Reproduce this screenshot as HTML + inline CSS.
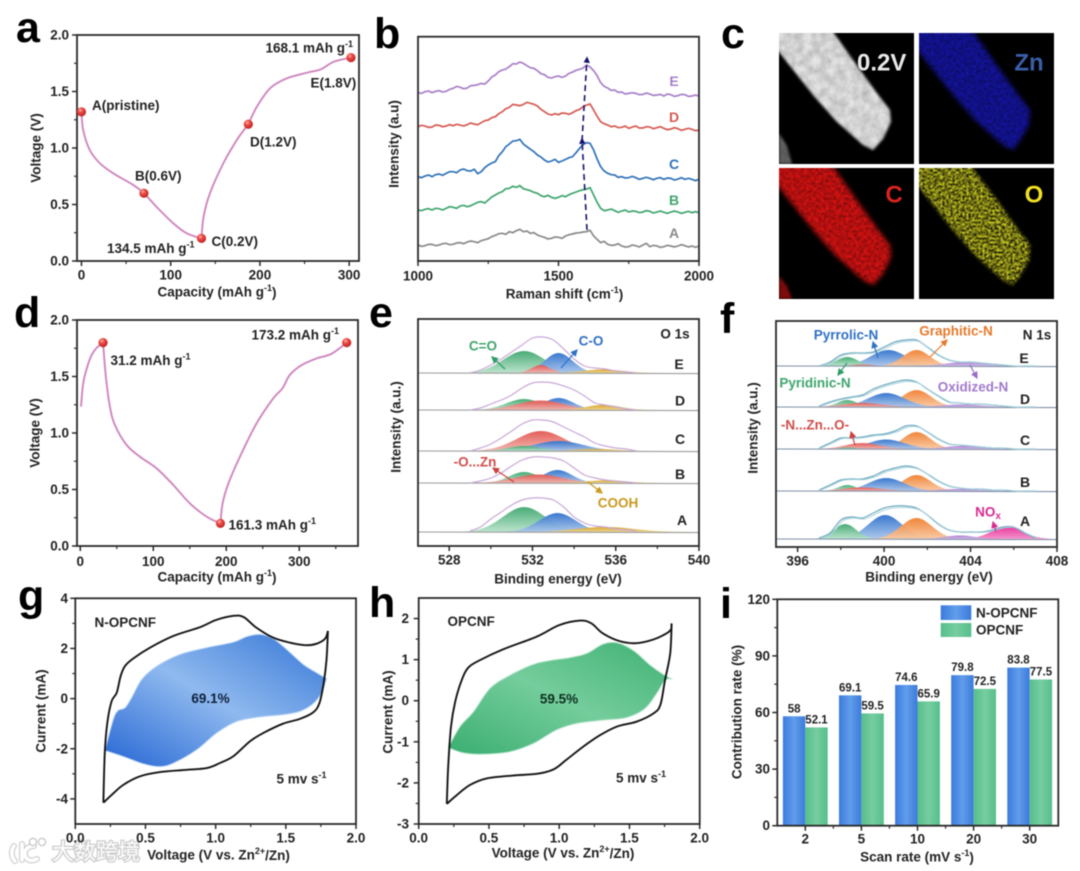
<!DOCTYPE html>
<html lang="en">
<head>
<meta charset="utf-8">
<title>Electrochemical characterization figure</title>
<style>
html,body{margin:0;padding:0;width:1080px;height:871px;overflow:hidden;background:#fff}
svg{display:block;filter:blur(.5px)}
text{font-family:"Liberation Sans","Noto Sans CJK SC",sans-serif;font-weight:700;font-size:13.5px;fill:#222;dominant-baseline:central}
.letter{font-size:43px;fill:#000;dominant-baseline:alphabetic}
.mid{text-anchor:middle}
.end{text-anchor:end}
.tick{font-size:13.5px}
.row{font-size:14px}
</style>
</head>
<body>
<svg id="figure" xmlns="http://www.w3.org/2000/svg" width="1080" height="871" viewBox="0 0 1080 871">
<defs>
  <radialGradient id="ball" cx=".38" cy=".32" r=".75"><stop offset="0" stop-color="#ffb5ae"/><stop offset=".35" stop-color="#ec4a44"/><stop offset="1" stop-color="#b81f1f"/></radialGradient>
  <linearGradient id="pk-green" x1="0" y1="0" x2="0" y2="1"><stop offset="0" stop-color="#3fa76f"/><stop offset="1" stop-color="#b8e2cb"/></linearGradient>
  <linearGradient id="pk-blue" x1="0" y1="0" x2="0" y2="1"><stop offset="0" stop-color="#2f71cc"/><stop offset="1" stop-color="#a9c6ec"/></linearGradient>
  <linearGradient id="pk-red" x1="0" y1="0" x2="0" y2="1"><stop offset="0" stop-color="#e2554f"/><stop offset="1" stop-color="#f3b4ae"/></linearGradient>
  <linearGradient id="pk-gold" x1="0" y1="0" x2="0" y2="1"><stop offset="0" stop-color="#d6a11e"/><stop offset="1" stop-color="#efd68e"/></linearGradient>
  <linearGradient id="pk-orange" x1="0" y1="0" x2="0" y2="1"><stop offset="0" stop-color="#f07f30"/><stop offset="1" stop-color="#f9c8a0"/></linearGradient>
  <linearGradient id="pk-purple" x1="0" y1="0" x2="0" y2="1"><stop offset="0" stop-color="#a875d0"/><stop offset="1" stop-color="#d5bce8"/></linearGradient>
  <linearGradient id="pk-pink" x1="0" y1="0" x2="0" y2="1"><stop offset="0" stop-color="#e62d98"/><stop offset="1" stop-color="#f48cc8"/></linearGradient>
  <linearGradient id="cv-blue" x1="0" y1="1" x2="1" y2="0"><stop offset="0" stop-color="#2566d4"/><stop offset=".5" stop-color="#8fb9ef"/><stop offset="1" stop-color="#3576d6"/></linearGradient>
  <linearGradient id="cv-green" x1="0" y1="1" x2="1" y2="0"><stop offset="0" stop-color="#3bae70"/><stop offset=".5" stop-color="#74cd9c"/><stop offset="1" stop-color="#3fb173"/></linearGradient>
  <linearGradient id="bar-blue" x1="0" y1="0" x2="1" y2="0"><stop offset="0" stop-color="#3b7bdb"/><stop offset=".5" stop-color="#619deb"/><stop offset="1" stop-color="#3b7bdb"/></linearGradient>
  <linearGradient id="bar-green" x1="0" y1="0" x2="1" y2="0"><stop offset="0" stop-color="#56be8b"/><stop offset=".5" stop-color="#76cea1"/><stop offset="1" stop-color="#56be8b"/></linearGradient>
  <marker id="m-green" markerWidth="7" markerHeight="7" refX="5" refY="3" orient="auto"><path d="M0 0L6 3L0 6Z" fill="#2f9a66"/></marker>
  <marker id="m-blue" markerWidth="7" markerHeight="7" refX="5" refY="3" orient="auto"><path d="M0 0L6 3L0 6Z" fill="#2f71c4"/></marker>
  <marker id="m-red" markerWidth="7" markerHeight="7" refX="5" refY="3" orient="auto"><path d="M0 0L6 3L0 6Z" fill="#c9423f"/></marker>
  <marker id="m-gold" markerWidth="7" markerHeight="7" refX="5" refY="3" orient="auto"><path d="M0 0L6 3L0 6Z" fill="#c9981e"/></marker>
  <marker id="m-orange" markerWidth="7" markerHeight="7" refX="5" refY="3" orient="auto"><path d="M0 0L6 3L0 6Z" fill="#e57a2e"/></marker>
  <marker id="m-purple" markerWidth="7" markerHeight="7" refX="5" refY="3" orient="auto"><path d="M0 0L6 3L0 6Z" fill="#9a6cc4"/></marker>
  <marker id="m-pink" markerWidth="7" markerHeight="7" refX="5" refY="3" orient="auto"><path d="M0 0L6 3L0 6Z" fill="#d92a90"/></marker>
  <marker id="m-navy" markerWidth="5" markerHeight="5" refX="3" refY="2" orient="auto"><path d="M0 0L4 2L0 4Z" fill="#14146e"/></marker>
  <clipPath id="map-clip"><rect x="0" y="0" width="135" height="131"/></clipPath>
  <filter id="sp-soft" x="-10%" y="-10%" width="120%" height="120%" color-interpolation-filters="sRGB"><feGaussianBlur stdDeviation="1.3" result="b"/><feTurbulence type="fractalNoise" baseFrequency=".12" numOctaves="3" seed="4"/><feColorMatrix type="matrix" values="0 0 0 0 0 0 0 0 0 0 0 0 0 0 0 .3 0 0 0 .76" result="n"/><feComposite in="b" in2="n" operator="in"/></filter>
  <filter id="sp-mid" x="-10%" y="-10%" width="120%" height="120%" color-interpolation-filters="sRGB"><feGaussianBlur stdDeviation="2.2" result="b"/><feTurbulence type="fractalNoise" baseFrequency=".4" numOctaves="2" seed="7"/><feColorMatrix type="matrix" values="0 0 0 0 0 0 0 0 0 0 0 0 0 0 0 1.1 0 0 0 .2" result="n"/><feComposite in="b" in2="n" operator="in"/><feGaussianBlur stdDeviation=".7"/></filter>
  <filter id="sp-hard" x="-10%" y="-10%" width="120%" height="120%" color-interpolation-filters="sRGB"><feGaussianBlur stdDeviation="1.6" result="b"/><feTurbulence type="fractalNoise" baseFrequency=".5" numOctaves="2" seed="11"/><feColorMatrix type="matrix" values="0 0 0 0 0 0 0 0 0 0 0 0 0 0 0 2.6 0 0 0 -.8" result="n"/><feComposite in="b" in2="n" operator="in"/><feGaussianBlur stdDeviation=".5"/></filter>
</defs>
<rect x="0" y="0" width="1080" height="871" fill="#fff"/>

<!-- Panel letters -->
<g>
  <text class="letter" x="16" y="42">a</text>
  <text class="letter" x="374" y="48">b</text>
  <text class="letter" x="721" y="48">c</text>
  <text class="letter" x="14" y="327">d</text>
  <text class="letter" x="369" y="327">e</text>
  <text class="letter" x="720" y="333">f</text>
  <text class="letter" x="18" y="610">g</text>
  <text class="letter" x="369" y="617">h</text>
  <text class="letter" x="720" y="618">i</text>
</g>

<!-- Panel a -->
<g id="panel-a">
  <g id="a-marks"></g>
  <text class="mid" x="217" y="292">Capacity (mAh g<tspan dy="-4" font-size="9">-1</tspan><tspan dy="4">)</tspan></text>
  <text class="mid" transform="rotate(-90 36 148)" x="36" y="148">Voltage (V)</text>
  <text x="92" y="105.5">A(pristine)</text>
  <text x="265.5" y="48">168.1 mAh g<tspan dy="-4" font-size="9">-1</tspan></text>
  <text x="310.5" y="83">E(1.8V)</text>
  <text x="250" y="142">D(1.2V)</text>
  <text x="135" y="176">B(0.6V)</text>
  <text x="211.5" y="241.5">C(0.2V)</text>
  <text x="107" y="248.5">134.5 mAh g<tspan dy="-4" font-size="9">-1</tspan></text>
</g>

<!-- Panel b -->
<g id="panel-b">
  <g id="b-marks"></g>
  <line x1="587" y1="230" x2="582" y2="139" stroke="#14146e" stroke-width="1.6" stroke-dasharray="6 4" marker-end="url(#m-navy)"/>
  <line x1="582" y1="141" x2="587" y2="58" stroke="#14146e" stroke-width="1.6" stroke-dasharray="6 4" marker-end="url(#m-navy)"/>
  <text class="mid" x="564.5" y="294">Raman shift (cm<tspan dy="-4" font-size="9">-1</tspan><tspan dy="4">)</tspan></text>
  <text class="mid" transform="rotate(-90 394 144)" x="394" y="144">Intensity (a.u)</text>
  <text class="mid row" x="674" y="81" style="fill:#a87fc9">E</text>
  <text class="mid row" x="674" y="117" style="fill:#d65a52">D</text>
  <text class="mid row" x="674" y="164" style="fill:#2f72b8">C</text>
  <text class="mid row" x="674" y="200" style="fill:#3fa56e">B</text>
  <text class="mid row" x="674" y="233" style="fill:#8a8a8a">A</text>
</g>

<!-- Panel c -->
<g id="panel-c">
  <g transform="translate(779,33)" clip-path="url(#map-clip)">
    <rect width="135" height="131" fill="#000"/>
    <polygon points="-4,-4 52,-4 74,27 97,59 111,77 112,89 104,106 94,117 84,112 57,88 34,62 -4,14" fill="#e6e6e6" filter="url(#sp-soft)"/>
    <polygon points="0,100 8,113 13,131 0,131" fill="#666" filter="url(#sp-soft)"/>
  </g>
  <g transform="translate(919,33)" clip-path="url(#map-clip)">
    <rect width="135" height="131" fill="#000"/>
    <polygon points="-4,-4 52,-4 74,27 97,59 111,77 110,92 102,106 94,117 84,112 57,88 34,62 -4,14" fill="#1616b0" filter="url(#sp-mid)"/>
  </g>
  <g transform="translate(779,168)" clip-path="url(#map-clip)">
    <rect width="135" height="131" fill="#000"/>
    <polygon points="-4,-4 52,-4 74,27 97,59 111,77 112,89 104,106 94,117 84,112 57,88 34,62 -4,14" fill="#ee1414" filter="url(#sp-mid)"/>
    <polygon points="0,108 8,118 13,131 0,131" fill="#8a0c0c" filter="url(#sp-soft)"/>
  </g>
  <g transform="translate(919,168)" clip-path="url(#map-clip)">
    <rect width="135" height="131" fill="#000"/>
    <polygon points="-4,-4 50,-4 74,27 97,59 111,77 110,92 102,106 94,117 84,112 57,88 34,62 -4,14" fill="#e8e828" filter="url(#sp-hard)"/>
  </g>
  <text x="857" y="63" style="font-size:24px;fill:#e8e8e8">0.2V</text>
  <text class="mid" x="1029" y="63" style="font-size:24px;fill:#3a5ea8">Zn</text>
  <text class="mid" x="894" y="195" style="font-size:24px;fill:#d8231c">C</text>
  <text class="mid" x="1034" y="195" style="font-size:24px;fill:#f2e020">O</text>
</g>

<!-- Panel d -->
<g id="panel-d">
  <g id="d-marks"></g>
  <text class="mid" x="217" y="577">Capacity (mAh g<tspan dy="-4" font-size="9">-1</tspan><tspan dy="4">)</tspan></text>
  <text class="mid" transform="rotate(-90 35 433)" x="35" y="433">Voltage (V)</text>
  <text x="110.5" y="360.5">31.2 mAh g<tspan dy="-4" font-size="9">-1</tspan></text>
  <text x="251.5" y="335">173.2 mAh g<tspan dy="-4" font-size="9">-1</tspan></text>
  <text x="228.5" y="525">161.3 mAh g<tspan dy="-4" font-size="9">-1</tspan></text>
</g>

<!-- Panel e -->
<g id="panel-e">
  <g id="e-marks"></g>
  <text class="mid" x="558" y="579">Binding energy (eV)</text>
  <text class="mid" transform="rotate(-90 396 427)" x="396" y="427">Intensity (a.u.)</text>
  <text class="mid" x="675" y="334">O 1s</text>
  <text class="mid row" x="679" y="364">E</text>
  <text class="mid row" x="680" y="400.5">D</text>
  <text class="mid row" x="680" y="439">C</text>
  <text class="mid row" x="680" y="474">B</text>
  <text class="mid row" x="682" y="520">A</text>
  <text class="mid" x="483" y="346" style="fill:#3fa56e">C=O</text>
  <text class="mid" x="591" y="341" style="fill:#2f71c4">C-O</text>
  <text class="mid" x="475" y="462" style="fill:#cf4e4b">-O...Zn</text>
  <text class="mid" x="618" y="503" style="fill:#c9981e">COOH</text>
  <line x1="505" y1="369" x2="492" y2="357" stroke="#2f9a66" stroke-width="1.2" marker-end="url(#m-green)"/>
  <line x1="561" y1="368" x2="577" y2="350" stroke="#2f71c4" stroke-width="1.2" marker-end="url(#m-blue)"/>
  <line x1="514" y1="482" x2="493" y2="468" stroke="#c9423f" stroke-width="1.2" marker-end="url(#m-red)"/>
  <line x1="588" y1="482" x2="602" y2="493" stroke="#c9981e" stroke-width="1.2" marker-end="url(#m-gold)"/>
</g>

<!-- Panel f -->
<g id="panel-f">
  <g id="f-marks"></g>
  <text class="mid" x="929" y="577">Binding energy (eV)</text>
  <text class="mid" transform="rotate(-90 753 428)" x="753" y="428">Intensity (a.u.)</text>
  <text class="mid" x="1037" y="335">N 1s</text>
  <text class="mid row" x="1024" y="358">E</text>
  <text class="mid row" x="1025" y="399">D</text>
  <text class="mid row" x="1025" y="440">C</text>
  <text class="mid row" x="1025" y="482">B</text>
  <text class="mid row" x="1025" y="521">A</text>
  <text class="mid" x="846" y="335" style="fill:#2f71c4">Pyrrolic-N</text>
  <text class="mid" x="956" y="331" style="fill:#e57a2e">Graphitic-N</text>
  <text class="mid" x="815" y="383" style="fill:#3fa56e">Pyridinic-N</text>
  <text class="mid" x="973" y="387" style="fill:#a27acb">Oxidized-N</text>
  <text class="mid" x="815" y="425" style="fill:#cf4e4b">-N...Zn...O-</text>
  <text class="mid" x="988" y="512" style="fill:#d92a90">NO<tspan dy="4" font-size="10">x</tspan></text>
  <line x1="878" y1="358" x2="873" y2="342" stroke="#2f71c4" stroke-width="1.2" marker-end="url(#m-blue)"/>
  <line x1="930" y1="357" x2="947" y2="340" stroke="#e57a2e" stroke-width="1.2" marker-end="url(#m-orange)"/>
  <line x1="847" y1="363" x2="838" y2="375" stroke="#2f9a66" stroke-width="1.2" marker-end="url(#m-green)"/>
  <line x1="970" y1="365" x2="977" y2="378" stroke="#9a6cc4" stroke-width="1.2" marker-end="url(#m-purple)"/>
  <line x1="855" y1="445" x2="851" y2="432" stroke="#c9423f" stroke-width="1.2" marker-end="url(#m-red)"/>
  <line x1="996" y1="532" x2="993" y2="522" stroke="#d92a90" stroke-width="1.2" marker-end="url(#m-pink)"/>
</g>

<!-- Watermark sits under the later axis text -->
<g>
  <g fill="none" stroke-linecap="round">
    <path d="M14 846 C11 850 11 857 15 861 M22 844 V860 M34 846 C27 846 24 851 25 855 C26 860 31 862 37 859" stroke="#cfcfcf" stroke-width="6"/>
    <path d="M14 846 C11 850 11 857 15 861 M22 844 V860 M34 846 C27 846 24 851 25 855 C26 860 31 862 37 859" stroke="#fff" stroke-width="3.6"/>
  </g>
  <circle cx="33" cy="842" r="3.6" fill="#fff" stroke="#c4c4c4" stroke-width="1.2"/>
  <circle cx="42" cy="842" r="3.6" fill="#fff" stroke="#c4c4c4" stroke-width="1.2"/>
  <text x="52" y="852" style="font-size:22px;font-weight:400;fill:#fff;stroke:#cdcdcd;stroke-width:2.6px;paint-order:stroke">大数跨境</text>
</g>

<!-- Panel g -->
<g id="panel-g">
  <g id="g-marks"></g>
  <text class="mid" x="218.5" y="855">Voltage (V vs. Zn<tspan dy="-4" font-size="9">2+</tspan><tspan dy="4">/Zn)</tspan></text>
  <text class="mid" transform="rotate(-90 41 711)" x="41" y="711">Current (mA)</text>
  <text x="94.5" y="622.5">N-OPCNF</text>
  <text class="mid" x="210.5" y="698.5" style="fill:#10203c">69.1%</text>
  <text x="276.5" y="779">5 mv s<tspan dy="-4" font-size="9">-1</tspan></text>
</g>

<!-- Panel h -->
<g id="panel-h">
  <g id="h-marks"></g>
  <text class="mid" x="563" y="853">Voltage (V vs. Zn<tspan dy="-4" font-size="9">2+</tspan><tspan dy="4">/Zn)</tspan></text>
  <text class="mid" transform="rotate(-90 388 712)" x="388" y="712">Current (mA)</text>
  <text x="447.5" y="621.5">OPCNF</text>
  <text class="mid" x="559" y="699" style="fill:#0e2e20">59.5%</text>
  <text x="616" y="778">5 mv s<tspan dy="-4" font-size="9">-1</tspan></text>
</g>

<!-- Panel i -->
<g id="panel-i">
  <g id="i-marks"></g>
  <text class="mid" x="917" y="857">Scan rate (mV s<tspan dy="-4" font-size="9">-1</tspan><tspan dy="4">)</tspan></text>
  <text class="mid" transform="rotate(-90 737 712)" x="737" y="712">Contribution rate (%)</text>
  <g>
    <rect x="940.7" y="605.3" width="30.6" height="14.7" fill="url(#bar-blue)"/>
    <rect x="940.7" y="623" width="30.6" height="14" fill="url(#bar-green)"/>
    <text x="976" y="613">N-OPCNF</text>
    <text x="976" y="630">OPCNF</text>
  </g>
</g>

<script>
// ---------- Panel a data ----------
const aDischargeCapacity = [0, 1.9, 9.4, 20.6, 35.6, 58, 70, 84, 103, 118, 134.5];
const aDischargeVoltage = [1.32, 1.16, 0.98, 0.865, 0.776, 0.673, 0.6, 0.48, 0.333, 0.245, 0.2];
const aChargeCapacity = [134.5, 136.8, 144, 159, 174, 186.5, 196.6, 211.6, 230, 253, 268, 283, 302];
const aChargeVoltage = [0.2, 0.39, 0.6, 0.865, 1.07, 1.21, 1.366, 1.53, 1.616, 1.667, 1.696, 1.764, 1.8];
const aPointCapacity = [0, 70, 134.5, 187, 302];
const aPointVoltage = [1.32, 0.6, 0.2, 1.21, 1.8];
const capXTicksA = [0, 100, 200, 300];
const capXMinorA = [50, 150, 250];
const voltYTicks = [0, 0.5, 1, 1.5, 2];
const voltYLabels = ['0.0', '0.5', '1.0', '1.5', '2.0'];
const voltYMinor = [0.25, 0.75, 1.25, 1.75];

// ---------- Panel b data ----------
const ramanShift = [1000,1012.5,1025,1037.5,1050,1062.5,1075,1087.5,1100,1112.5,1125,1137.5,1150,1162.5,1175,1187.5,1200,1212.5,1225,1237.5,1250,1262.5,1275,1287.5,1300,1312.5,1325,1337.5,1350,1362.5,1375,1387.5,1400,1412.5,1425,1437.5,1450,1462.5,1475,1487.5,1500,1512.5,1525,1537.5,1550,1562.5,1575,1587.5,1600,1612.5,1625,1637.5,1650,1662.5,1675,1687.5,1700,1712.5,1725,1737.5,1750,1762.5,1775,1787.5,1800,1812.5,1825,1837.5,1850,1862.5,1875,1887.5,1900,1912.5,1925,1937.5,1950,1962.5,1975,1987.5,2000];
const ramanE = [505,503,508,510,505,509,511,507,509,515,518,524,521,517,519,526,527,529,533,531,540,552,558,568,573,576,583,592,591,597,593,586,580,578,571,562,559,551,549,553,555,551,555,563,567,572,575,579,588,582,571,556,535,524,519,512,513,506,507,501,503,505,503,499,500,504,501,497,498,500,495,501,499,494,496,500,499,494,495,498,495];
const ramanD = [403,407,405,401,402,408,407,403,405,409,406,410,408,405,409,414,411,409,415,421,423,430,433,442,448,457,461,470,468,466,470,476,473,470,465,455,448,441,438,442,439,444,443,440,445,451,455,463,468,471,453,434,418,412,408,403,405,400,401,405,398,402,405,399,399,403,402,397,400,403,398,394,396,400,397,392,395,398,395,391,393];
const ramanC = [253,250,255,258,253,259,261,257,263,268,268,265,273,276,271,270,275,262,268,280,288,294,298,316,328,343,351,360,361,365,351,343,335,328,318,312,303,297,300,305,296,300,305,310,313,325,338,349,355,353,333,306,283,270,263,259,258,251,253,249,250,254,250,245,248,251,248,244,248,250,245,249,248,243,246,250,245,248,245,241,245];
const ramanB = [153,151,155,157,153,158,157,153,158,163,161,158,165,167,163,166,171,176,178,174,183,192,198,204,208,217,218,224,221,226,217,214,211,206,203,196,193,197,191,188,191,196,193,199,203,207,211,214,216,220,198,176,158,151,153,156,151,146,150,153,147,150,149,145,147,151,149,144,147,150,146,143,147,150,147,143,146,149,145,148,145];
const ramanA = [48,44,46,50,50,46,48,52,53,49,50,54,55,52,57,60,58,55,61,64,67,73,77,82,83,80,88,85,91,95,88,90,83,85,78,74,71,66,68,72,71,68,75,79,81,84,85,87,88,92,75,65,55,59,50,47,48,52,45,42,43,48,46,42,48,53,43,47,45,41,43,47,45,42,45,49,46,42,45,41,45];
const ramanXTicks = [1000, 1500, 2000];
const ramanXMinor = [1250, 1750];

// ---------- Panel d data ----------
const dFirstCapacity = [1, 4, 9.6, 15.5, 22, 31.2];
const dFirstVoltage = [1.233, 1.44, 1.587, 1.69, 1.75, 1.8];
const dDischargeCapacity = [31.2, 35, 40.6, 47.5, 63.5, 81.7, 104.6, 127.4, 150, 173, 192];
const dDischargeVoltage = [1.8, 1.5, 1.233, 1.07, 0.894, 0.79, 0.687, 0.54, 0.378, 0.26, 0.2];
const dChargeCapacity = [192, 195, 203, 218.7, 241.5, 264.4, 277, 287, 303, 323.7, 344, 365];
const dChargeVoltage = [0.2, 0.378, 0.555, 0.79, 1.085, 1.307, 1.395, 1.513, 1.6, 1.66, 1.7, 1.8];
const dPointCapacity = [31.2, 192, 365];
const dPointVoltage = [1.8, 0.2, 1.8];
const capXTicksD = [0, 100, 200, 300];
const capXMinorD = [50, 150, 250, 350];

// ---------- Panel e data (rows A, B, C, D, E) ----------
const o1sBaseline = [14, 63, 95, 136, 173];
const o1sCOdblCenter = [531.6, 531.6, 531.6, 531.6, 531.6];
const o1sCOdblHeight = [25, 11, 5, 11, 22];
const o1sCOdblWidth = [1.02, 0.72, 0.8, 0.85, 1.0];
const o1sCOCenter = [533.2, 533.2, 533.25, 533.25, 533.25];
const o1sCOHeight = [19, 13, 10, 12, 20];
const o1sCOWidth = [0.88, 0.7, 1.2, 0.72, 0.68];
const o1sZnCenter = [532.4, 532.3, 532.4, 532.4, 532.4];
const o1sZnHeight = [0, 8.5, 20, 9.5, 8];
const o1sZnWidth = [0.5, 1.15, 1.15, 1.15, 0.45];
const o1sCoohCenter = [535.5, 535.5, 535, 535.4, 535.4];
const o1sCoohHeight = [5, 2.5, 2, 5, 3.5];
const o1sCoohWidth = [1.4, 1.0, 1.0, 0.85, 0.95];
const o1sEnergy = [529,529.5,530,530.5,531,531.5,532,532.5,533,533.5,534,534.5,535,535.5,536,536.5,537];
const o1sEnvA = [1,5,13,20,27,32,34,34,32,25,15,9,6,5,3,2,1];
const o1sEnvB = [0,2,5,10,17,23,26,26,25,22,15,8,5,3,2,1,0];
const o1sEnvC = [0,3,7,13,20,27,31,31,29,24,19,14,8,5,3,2,0];
const o1sEnvD = [0,2,6,10,15,22,27,28,27,24,20,14,7,5,3,1,0];
const o1sEnvE = [0,3,8,14,21,28,35,36,33,24,14,7,5,4,2,1,0];
const o1sXTicks = [528, 532, 536, 540];
const o1sXMinor = [530, 534, 538];

// ---------- Panel f data (rows A, B, C, D, E) ----------
const n1sBaseline = [8, 56, 98, 140, 181];
const n1sPyridinicCenter = [398.2, 398.3, 398.3, 398.3, 398.3];
const n1sPyridinicHeight = [15, 6, 1.5, 7, 9];
const n1sPyridinicWidth = [0.52, 0.42, 0.4, 0.46, 0.5];
const n1sPyrrolicCenter = [400.05, 400.1, 400.1, 400.1, 400.2];
const n1sPyrrolicHeight = [24, 13, 9.5, 14, 16];
const n1sPyrrolicWidth = [0.78, 0.82, 0.85, 0.85, 0.82];
const n1sGraphiticCenter = [401.5, 401.5, 401.5, 401.5, 401.5];
const n1sGraphiticHeight = [21, 16, 17, 17, 16];
const n1sGraphiticWidth = [0.72, 0.66, 0.64, 0.68, 0.62];
const n1sOxidizedCenter = [403.5, 403.5, 403.6, 403.6, 403.8];
const n1sOxidizedHeight = [3.5, 2, 3, 2.5, 4];
const n1sOxidizedWidth = [0.7, 0.95, 0.85, 0.95, 0.95];
const n1sZnCenter = [399, 399, 399, 399, 399];
const n1sZnHeight = [0, 3.5, 6, 4, 1.5];
const n1sZnWidth = [0.5, 0.9, 0.8, 0.95, 0.5];
const n1sNoxCenter = [405.7, 405.7, 405.7, 405.7, 405.7];
const n1sNoxHeight = [12.7, 0, 0, 0, 0];
const n1sNoxWidth = [0.72, 0.7, 0.7, 0.7, 0.7];
const n1sEnergy = [397,397.5,398,398.5,399,399.5,400,400.5,401,401.5,402,402.5,403,403.5,404,404.5,405,405.5,406,406.5,407];
const n1sEnvA = [1,6,19,22,21,26,31,33,33,31,24,15,9,7,7,7,9,12,12,6,1];
const n1sEnvB = [1,6,11,12,12,15,20,23,25,23,17,10,5,3,2,2,1,1,0,0,0];
const n1sEnvC = [1,6,11,11,12,14,15,18,23,23,17,10,5,4,3,2,1,1,0,0,0];
const n1sEnvD = [1,5,8,10,12,18,22,25,27,25,18,11,5,4,3,3,2,1,0,0,0];
const n1sEnvE = [0,4,11,13,13,14,19,24,26,26,19,11,6,4,4,3,2,1,0,0,0];
const n1sXTicks = [396, 400, 404, 408];
const n1sXMinor = [398, 402, 406];

// ---------- Panel g data ----------
const gUpV = [0.2,0.21,0.228,0.259,0.295,0.323,0.354,0.413,0.532,0.7,0.89,1.0,1.126,1.2,1.29,1.41,1.53,1.64,1.72,1.78,1.8];
const gUpI = [-4.15,-2.17,-0.97,-0.1,0.23,0.9,1.3,1.6,2.03,2.5,2.85,3.13,3.3,3.25,2.83,2.43,2.23,2.13,2.19,2.39,2.7];
const gDownV = [1.8,1.79,1.77,1.74,1.695,1.6,1.48,1.34,1.245,1.126,1.03,0.936,0.793,0.603,0.46,0.342,0.259,0.2];
const gDownI = [2.7,1.56,0.63,-0.17,-0.55,-0.81,-1,-1.37,-1.7,-2.3,-2.57,-2.77,-2.84,-2.93,-3.1,-3.44,-3.84,-4.15];
const gFillUpV = [0.211,0.27,0.306,0.354,0.401,0.473,0.58,0.746,0.936,1.126,1.22,1.316,1.41,1.506,1.625,1.72,1.79];
const gFillUpI = [-2.07,-0.84,-0.47,-0.37,0.03,0.76,1.29,1.76,2.03,2.25,2.47,2.56,2.39,1.96,1.36,1.03,0.8];
const gFillDownV = [1.79,1.755,1.695,1.6,1.48,1.316,1.15,1.007,0.865,0.7,0.603,0.485,0.342,0.211];
const gFillDownI = [0.8,0.23,-0.2,-0.51,-0.64,-0.73,-0.91,-1.37,-2.04,-2.57,-2.71,-2.6,-2.31,-2.07];
const cvXTicks = [0, 0.5, 1, 1.5, 2];
const cvXLabels = ['0.0', '0.5', '1.0', '1.5', '2.0'];
const cvXMinor = [0.25, 0.75, 1.25, 1.75];
const gYTicks = [-4, -2, 0, 2, 4];
const gYMinor = [-3, -1, 1, 3];

// ---------- Panel h data ----------
const hUpV = [0.2,0.21,0.23,0.26,0.306,0.354,0.437,0.6,0.84,1.0,1.15,1.23,1.31,1.43,1.55,1.67,1.765,1.796,1.8];
const hUpI = [-2.51,-1.6,-0.63,-0.02,0.5,0.81,0.99,1.25,1.56,1.84,1.95,1.88,1.64,1.45,1.4,1.49,1.64,1.74,1.88];
const hDownV = [1.8,1.79,1.753,1.72,1.67,1.55,1.41,1.29,1.17,1.05,0.96,0.84,0.67,0.484,0.365,0.27,0.2];
const hDownI = [1.88,1.15,0.5,-0.1,-0.31,-0.51,-0.63,-0.84,-1.12,-1.44,-1.67,-1.78,-1.82,-1.89,-2.05,-2.3,-2.51];
const hFillUpV = [0.21,0.294,0.39,0.508,0.65,0.84,1.077,1.196,1.314,1.41,1.528,1.646,1.74,1.8];
const hFillUpI = [-1.14,-0.63,-0.27,0.3,0.62,0.91,1.05,1.15,1.38,1.41,1.22,0.87,0.64,0.53];
const hFillDownV = [1.8,1.753,1.694,1.61,1.48,1.314,1.125,0.98,0.816,0.65,0.46,0.318,0.21];
const hFillDownI = [0.53,0.5,0.18,-0.19,-0.41,-0.47,-0.55,-0.71,-1.04,-1.24,-1.3,-1.27,-1.14];
const hYTicks = [-3, -2, -1, 0, 1, 2];
const hYMinor = [-2.5, -1.5, -0.5, 0.5, 1.5];

// ---------- Panel i data ----------
const scanRates = ['2', '5', '10', '20', '30'];
const nOpcnfRate = [58, 69.1, 74.6, 79.8, 83.8];
const opcnfRate = [52.1, 59.5, 65.9, 72.5, 77.5];
const rateYTicks = [0, 30, 60, 90, 120];
const rateYMinor = [15, 45, 75, 105];

// ---------- Helpers ----------
const SVGNS = 'http://www.w3.org/2000/svg';
function linear(d0, d1, r0, r1) {
  return function (v) { return r0 + (v - d0) / (d1 - d0) * (r1 - r0); };
}
function make(parent, tag, props) {
  const el = document.createElementNS(SVGNS, tag);
  Object.keys(props).forEach(function (k) { el.setAttribute(k, props[k]); });
  parent.appendChild(el);
  return el;
}
function smoothSegment(pts, move) {
  let d = move ? 'M' + pts[0][0].toFixed(2) + ' ' + pts[0][1].toFixed(2) : 'L' + pts[0][0].toFixed(2) + ' ' + pts[0][1].toFixed(2);
  for (let i = 0; i < pts.length - 1; i++) {
    const p0 = pts[Math.max(i - 1, 0)], p1 = pts[i], p2 = pts[i + 1], p3 = pts[Math.min(i + 2, pts.length - 1)];
    const c1x = p1[0] + (p2[0] - p0[0]) / 6, c1y = p1[1] + (p2[1] - p0[1]) / 6;
    const c2x = p2[0] - (p3[0] - p1[0]) / 6, c2y = p2[1] - (p3[1] - p1[1]) / 6;
    d += 'C' + c1x.toFixed(2) + ' ' + c1y.toFixed(2) + ' ' + c2x.toFixed(2) + ' ' + c2y.toFixed(2) + ' ' + p2[0].toFixed(2) + ' ' + p2[1].toFixed(2);
  }
  return d;
}
function toPixels(xs, ys, sx, sy) {
  return xs.map(function (x, i) { return [sx(x), sy(ys[i])]; });
}
function drawAxes(g, box, sx, sy, o) {
  const frame = make(g, 'rect', { x: box[0], y: box[2], width: box[1] - box[0], height: box[3] - box[2], fill: 'none', stroke: '#2a2a2a', 'stroke-width': 1.8 });
  
  
  o.xMajor.forEach(function (v, i) {
    const t = make(g, 'line', { x1: sx(v), x2: sx(v), y1: box[3], y2: box[3] + 5, stroke: '#2a2a2a', 'stroke-width': 1.5 });
    
    
    const l = make(g, 'text', { x: sx(v), y: o.xLabelY, class: 'mid tick' });
    l.textContent = o.xLabels ? o.xLabels[i] : String(v);
    
    
  });
  o.xMinor.forEach(function (v) {
    const t = make(g, 'line', { x1: sx(v), x2: sx(v), y1: box[3], y2: box[3] + 3, stroke: '#2a2a2a', 'stroke-width': 1.2 });
    
    
  });
  (o.yMajor || []).forEach(function (v, i) {
    const t = make(g, 'line', { x1: box[0] - 5, x2: box[0], y1: sy(v), y2: sy(v), stroke: '#2a2a2a', 'stroke-width': 1.5 });
    
    
    const l = make(g, 'text', { x: o.yLabelX, y: sy(v), class: 'end tick' });
    l.textContent = o.yLabels ? o.yLabels[i] : String(v);
    
    
  });
  (o.yMinor || []).forEach(function (v) {
    const t = make(g, 'line', { x1: box[0] - 3, x2: box[0], y1: sy(v), y2: sy(v), stroke: '#2a2a2a', 'stroke-width': 1.2 });
    
    
  });
}
function drawGcd(g, segments, px, py, sx, sy) {
  segments.forEach(function (seg) {
    const line = make(g, 'path', { d: smoothSegment(toPixels(seg[0], seg[1], sx, sy), true), fill: 'none', stroke: '#cf86bf', 'stroke-width': 1.9 });
    
    
  });
  px.forEach(function (x, i) {
    const c = make(g, 'circle', { cx: sx(x), cy: sy(py[i]), r: 4.6, fill: 'url(#ball)' });
    
    
  });
}
function peakShape(center, height, width, base, sx, sy, fill, g, name) {
  const top = [];
  const n = 40;
  for (let i = 0; i <= n; i++) {
    const e = center - 3.2 * width + 6.4 * width * i / n;
    const u = (e - center) / width;
    top.push(sx(e).toFixed(2) + ' ' + sy(base + height * Math.exp(-0.5 * u * u)).toFixed(2));
  }
  const p = make(g, 'path', { d: 'M' + top.join('L') + 'Z', fill: fill, stroke: 'none', 'fill-opacity': 0.95 });
  
  
}
function drawXps(g, rows, baselines, species, energy, envs, box, sx, sy, envColor, baseColor, doubled) {
  rows.forEach(function (row, r) {
    const peaks = species.map(function (s) { return { c: s.c[r], h: s.h[r], w: s.w[r], fill: s.fill, name: s.name }; })
      .filter(function (p) { return p.h > 0; })
      .sort(function (a, b) { return b.h - a.h; });
    peaks.forEach(function (p) { peakShape(p.c, p.h, p.w, baselines[r], sx, sy, p.fill, g, p.name); });
    const base = make(g, 'line', { x1: box[0], x2: box[1], y1: sy(baselines[r]), y2: sy(baselines[r] - 0.6), stroke: baseColor, 'stroke-width': 1.1 });
    
    
    const pts = energy.map(function (e, i) { return [sx(e), sy(baselines[r] + envs[r][i])]; });
    const env = make(g, 'path', { d: smoothSegment(pts, true), fill: 'none', stroke: envColor, 'stroke-width': 1.2 });
    
    
    if (doubled) {
      const ptsB = energy.map(function (e, i) { return [sx(e + 0.09), sy(baselines[r] + envs[r][i] * 0.95)]; });
      const env2 = make(g, 'path', { d: smoothSegment(ptsB, true), fill: 'none', stroke: '#a9d3dd', 'stroke-width': 1 });
      
      
    }
  });
}
function drawCv(g, outerSegs, fillUp, fillDown, sx, sy, fill, edge) {
  const upPts = toPixels(fillUp[0], fillUp[1], sx, sy);
  const downPts = toPixels(fillDown[0], fillDown[1], sx, sy);
  const area = make(g, 'path', { d: smoothSegment(upPts, true) + smoothSegment(downPts, false) + 'Z', fill: fill, stroke: edge, 'stroke-width': 1 });
  
  
  outerSegs.forEach(function (seg) {
    const line = make(g, 'path', { d: smoothSegment(toPixels(seg[0], seg[1], sx, sy), true), fill: 'none', stroke: '#151515', 'stroke-width': 1.9 });
    
    
  });
}

// ---------- Panel a ----------
(function () {
  const g = document.getElementById('a-marks');
  const sx = linear(-5, 311, 77, 359), sy = linear(0, 2, 261, 35);
  drawAxes(g, [77, 359, 35, 261], sx, sy, { xMajor: capXTicksA, xMinor: capXMinorA, xLabelY: 275, yMajor: voltYTicks, yLabels: voltYLabels, yMinor: voltYMinor, yLabelX: 69 });
  drawGcd(g, [[aDischargeCapacity, aDischargeVoltage], [aChargeCapacity, aChargeVoltage]], aPointCapacity, aPointVoltage, sx, sy);
})();

// ---------- Panel b ----------
(function () {
  const g = document.getElementById('b-marks');
  const sx = linear(1000, 2000, 418, 699), sy = linear(0, 673, 261, 36.7);
  const series = [[ramanA, '#8a8a8a', 'raman-a'], [ramanB, '#3fa56e', 'raman-b'], [ramanC, '#2f72b8', 'raman-c'], [ramanD, '#d65a52', 'raman-d'], [ramanE, '#a87fc9', 'raman-e']];
  series.forEach(function (s) {
    const d = 'M' + ramanShift.map(function (x, i) { return sx(x).toFixed(2) + ' ' + sy(s[0][i]).toFixed(2); }).join('L');
    const line = make(g, 'path', { d: d, fill: 'none', stroke: s[1], 'stroke-width': 1.7 });
    
    
  });
  drawAxes(g, [418, 699, 36.7, 261], sx, sy, { xMajor: ramanXTicks, xMinor: ramanXMinor, xLabelY: 276 });
})();

// ---------- Panel d ----------
(function () {
  const g = document.getElementById('d-marks');
  const sx = linear(-4.5, 380.5, 77, 358), sy = linear(0, 2, 546, 320);
  drawAxes(g, [77, 358, 320, 546], sx, sy, { xMajor: capXTicksD, xMinor: capXMinorD, xLabelY: 561.5, yMajor: voltYTicks, yLabels: voltYLabels, yMinor: voltYMinor, yLabelX: 69 });
  drawGcd(g, [[dFirstCapacity, dFirstVoltage], [dDischargeCapacity, dDischargeVoltage], [dChargeCapacity, dChargeVoltage]], dPointCapacity, dPointVoltage, sx, sy);
})();

// ---------- Panel e ----------
(function () {
  const g = document.getElementById('e-marks');
  const sx = linear(526.5, 540, 418, 699), sy = linear(0, 227, 546, 319);
  const species = [
    { c: o1sCOdblCenter, h: o1sCOdblHeight, w: o1sCOdblWidth, fill: 'url(#pk-green)', name: 'peak-c-double-o' },
    { c: o1sCOCenter, h: o1sCOHeight, w: o1sCOWidth, fill: 'url(#pk-blue)', name: 'peak-c-o' },
    { c: o1sZnCenter, h: o1sZnHeight, w: o1sZnWidth, fill: 'url(#pk-red)', name: 'peak-o-zn' },
    { c: o1sCoohCenter, h: o1sCoohHeight, w: o1sCoohWidth, fill: 'url(#pk-gold)', name: 'peak-cooh' }
  ];
  drawXps(g, ['A', 'B', 'C', 'D', 'E'], o1sBaseline, species, o1sEnergy, [o1sEnvA, o1sEnvB, o1sEnvC, o1sEnvD, o1sEnvE], [418, 699], sx, sy, '#c9a8d8', '#9c9c9c', false);
  drawAxes(g, [418, 699, 319, 546], sx, sy, { xMajor: o1sXTicks, xMinor: o1sXMinor, xLabelY: 560 });
})();

// ---------- Panel f ----------
(function () {
  const g = document.getElementById('f-marks');
  const sx = linear(395, 408, 776, 1057), sy = linear(0, 226, 547, 321);
  const species = [
    { c: n1sPyridinicCenter, h: n1sPyridinicHeight, w: n1sPyridinicWidth, fill: 'url(#pk-green)', name: 'peak-pyridinic' },
    { c: n1sPyrrolicCenter, h: n1sPyrrolicHeight, w: n1sPyrrolicWidth, fill: 'url(#pk-blue)', name: 'peak-pyrrolic' },
    { c: n1sGraphiticCenter, h: n1sGraphiticHeight, w: n1sGraphiticWidth, fill: 'url(#pk-orange)', name: 'peak-graphitic' },
    { c: n1sOxidizedCenter, h: n1sOxidizedHeight, w: n1sOxidizedWidth, fill: 'url(#pk-purple)', name: 'peak-oxidized' },
    { c: n1sZnCenter, h: n1sZnHeight, w: n1sZnWidth, fill: 'url(#pk-red)', name: 'peak-n-zn-o' },
    { c: n1sNoxCenter, h: n1sNoxHeight, w: n1sNoxWidth, fill: 'url(#pk-pink)', name: 'peak-nox' }
  ];
  drawXps(g, ['A', 'B', 'C', 'D', 'E'], n1sBaseline, species, n1sEnergy, [n1sEnvA, n1sEnvB, n1sEnvC, n1sEnvD, n1sEnvE], [776, 1057], sx, sy, '#6fa9bf', '#7d8fa6', true);
  drawAxes(g, [776, 1057, 321, 547], sx, sy, { xMajor: n1sXTicks, xMinor: n1sXMinor, xLabelY: 561 });
})();

// ---------- Panel g ----------
(function () {
  const g = document.getElementById('g-marks');
  const sx = linear(0, 2, 75.3, 356), sy = linear(-5, 4, 824, 598.3);
  drawCv(g, [[gUpV, gUpI], [gDownV, gDownI]], [gFillUpV, gFillUpI], [gFillDownV, gFillDownI], sx, sy, 'url(#cv-blue)', '#b8d4f6');
  drawAxes(g, [75.3, 356, 598.3, 824], sx, sy, { xMajor: cvXTicks, xLabels: cvXLabels, xMinor: cvXMinor, xLabelY: 838, yMajor: gYTicks, yMinor: gYMinor, yLabelX: 68 });
})();

// ---------- Panel h ----------
(function () {
  const g = document.getElementById('h-marks');
  const sx = linear(0, 2, 418.7, 699.7), sy = linear(-3, 2.5, 824, 598);
  drawCv(g, [[hUpV, hUpI], [hDownV, hDownI]], [hFillUpV, hFillUpI], [hFillDownV, hFillDownI], sx, sy, 'url(#cv-green)', '#b5e4ca');
  drawAxes(g, [418.7, 699.7, 598, 824], sx, sy, { xMajor: cvXTicks, xLabels: cvXLabels, xMinor: cvXMinor, xLabelY: 838, yMajor: hYTicks, yMinor: hYMinor, yLabelX: 409 });
})();

// ---------- Panel i ----------
(function () {
  const g = document.getElementById('i-marks');
  const sx = linear(0, 4, 805.3, 1029.7), sy = linear(0, 120, 825.7, 599.3);
  const barW = 22.4;
  scanRates.forEach(function (rate, i) {
    const cx = sx(i);
    const blue = make(g, 'rect', { x: cx - barW, y: sy(nOpcnfRate[i]), width: barW, height: sy(0) - sy(nOpcnfRate[i]), fill: 'url(#bar-blue)' });
    
    
    const green = make(g, 'rect', { x: cx, y: sy(opcnfRate[i]), width: barW, height: sy(0) - sy(opcnfRate[i]), fill: 'url(#bar-green)' });
    
    
    const lb = make(g, 'text', { x: cx - barW / 2, y: sy(nOpcnfRate[i]) - 7, class: 'mid', style: 'font-size:11.5px' });
    lb.textContent = String(nOpcnfRate[i]);
    
    
    const lg = make(g, 'text', { x: cx + barW / 2, y: sy(opcnfRate[i]) - 7, class: 'mid', style: 'font-size:11.5px' });
    lg.textContent = String(opcnfRate[i]);
    
    
  });
  drawAxes(g, [777.3, 1058.3, 599.3, 825.7], sx, sy, { xMajor: [0, 1, 2, 3, 4], xLabels: scanRates, xMinor: [0.5, 1.5, 2.5, 3.5], xLabelY: 839, yMajor: rateYTicks, yMinor: rateYMinor, yLabelX: 770 });
})();
</script>
</svg>
</body>
</html>
